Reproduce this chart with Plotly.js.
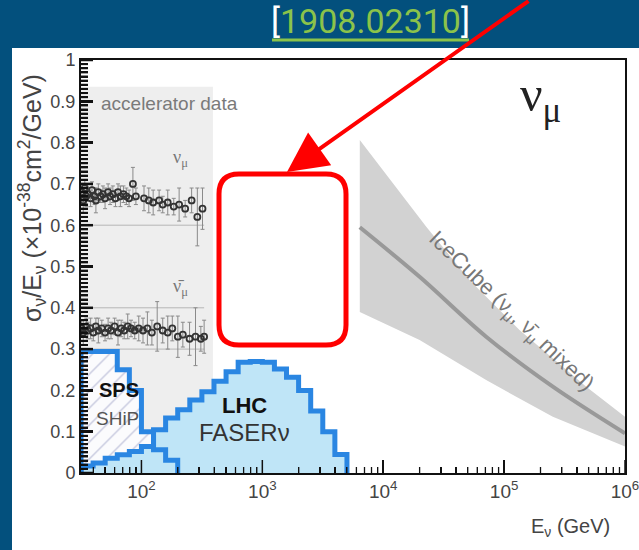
<!DOCTYPE html>
<html><head><meta charset="utf-8">
<script src="https://cdn.plot.ly/plotly-3.0.1.min.js"></script>
<style>html,body{margin:0;padding:0;background:#03507d;overflow:hidden;}
#panel{position:absolute;left:12px;top:48px;width:627px;height:502px;background:#ffffff;z-index:0;}
#chart{position:absolute;left:0;top:0;width:639px;height:550px;z-index:1;}</style>
</head><body><div id="panel"></div><div id="chart"></div>
<script>
// ---------------- data ----------------
// histogram bins: log10(E/GeV) from 1.5 in steps of 0.1
const binStartLog = 1.5;
const binStepLog = 0.1;
const spsShipValues = [0.294, 0.294, 0.294, 0.25, 0.2, 0.1, 0.056, 0.031];
const lhcFaserValues = [0.017, 0.024, 0.036, 0.044, 0.052, 0.064, 0.105, 0.133, 0.153, 0.177, 0.197, 0.222,
  0.245, 0.268, 0.27, 0.268, 0.252, 0.232, 0.2, 0.15, 0.1, 0.045];

// IceCube band (E in GeV)
const iceE      = [6400, 20000, 71000, 253000, 1000000];
const iceCentre = [0.595, 0.475, 0.33, 0.209, 0.096];
const iceUpperE = [6400, 22700, 51900, 134000, 481000, 1000000];
const iceUpper  = [0.806, 0.596, 0.467, 0.346, 0.208, 0.136];
const iceLower  = [0.39, 0.322, 0.225, 0.136, 0.064];

// accelerator data region
const accelRangeE = [31.6, 390];
const accelTop = 0.935;
const refLineValues = [0.6, 0.4, 0.3];
const refLineE = [31.6, 330];

// accelerator nu_mu measurements
const numuE   = [32, 33, 34, 35, 36, 38, 39, 41, 42, 44, 46, 48, 50, 53, 55, 58, 61, 64, 67, 71, 75, 79, 85, 90,
  105, 115, 125, 140, 150, 165, 185, 205, 230, 260, 290, 320];
const numuV   = [0.68, 0.66, 0.69, 0.67, 0.675, 0.665, 0.685, 0.67, 0.66, 0.68, 0.67, 0.675, 0.665, 0.68, 0.67,
  0.675, 0.665, 0.68, 0.67, 0.675, 0.67, 0.665, 0.70, 0.67, 0.665, 0.66, 0.655, 0.66, 0.65, 0.655, 0.645,
  0.65, 0.64, 0.66, 0.62, 0.64];
const numuErr = [0.02, 0.03, 0.02, 0.025, 0.015, 0.02, 0.02, 0.02, 0.03, 0.02, 0.015, 0.02, 0.025, 0.02, 0.02,
  0.02, 0.02, 0.02, 0.025, 0.02, 0.02, 0.02, 0.04, 0.02, 0.03, 0.03, 0.03, 0.025, 0.02, 0.03, 0.02, 0.04,
  0.02, 0.03, 0.07, 0.05];
// accelerator anti-nu_mu measurements
const nubarE   = [32, 33, 35, 36, 38, 40, 42, 44, 47, 50, 53, 56, 60, 64, 68, 72, 77, 82, 88, 95, 103, 112,
  122, 135, 150, 165, 180, 200, 220, 250, 280, 310, 330];
const nubarV   = [0.35, 0.34, 0.355, 0.345, 0.35, 0.34, 0.355, 0.345, 0.35, 0.34, 0.35, 0.345, 0.355, 0.34,
  0.35, 0.345, 0.355, 0.35, 0.345, 0.35, 0.345, 0.35, 0.34, 0.355, 0.345, 0.34, 0.35, 0.33, 0.335, 0.325,
  0.33, 0.325, 0.33];
const nubarErr = [0.02, 0.03, 0.02, 0.02, 0.025, 0.02, 0.02, 0.03, 0.02, 0.02, 0.025, 0.02, 0.02, 0.03, 0.02,
  0.02, 0.03, 0.02, 0.02, 0.03, 0.03, 0.04, 0.03, 0.06, 0.03, 0.04, 0.03, 0.05, 0.03, 0.04, 0.07, 0.03, 0.04];

const xTickVals = [100, 1000, 10000, 100000, 1000000];
const xTickText = ['10<sup>2</sup>', '10<sup>3</sup>', '10<sup>4</sup>', '10<sup>5</sup>', '10<sup>6</sup>'];

// ---------------- helpers ----------------
const L = 81, T = 60, W = 544, H = 413;
const xRangeLog = [1.5, 6];
const px = x => (x - L) / W;
const py = y => (T + H - y) / H;
const logPerPx = (xRangeLog[1] - xRangeLog[0]) / W;
function steps(values) {
  const xs = [], ys = [];
  const edge = k => Math.pow(10, binStartLog + binStepLog * k);
  xs.push(edge(0)); ys.push(0);
  values.forEach((v, k) => { xs.push(edge(k), edge(k + 1)); ys.push(v, v); });
  xs.push(edge(values.length)); ys.push(0);
  return {x: xs, y: ys};
}
function roundRect(x0, y0, x1, y1, r) {
  const P = (x, y) => px(x) + ',' + py(y);
  return 'M' + P(x0 + r, y0) + ' L' + P(x1 - r, y0) + ' Q' + P(x1, y0) + ' ' + P(x1, y0 + r) +
    ' L' + P(x1, y1 - r) + ' Q' + P(x1, y1) + ' ' + P(x1 - r, y1) +
    ' L' + P(x0 + r, y1) + ' Q' + P(x0, y1) + ' ' + P(x0, y1 - r) +
    ' L' + P(x0, y0 + r) + ' Q' + P(x0, y0) + ' ' + P(x0 + r, y0) + ' Z';
}
// inside tick marks (axis decoration), placed on the axes' own scales
function yTickTrace(step, lenPx, width, skipMajor) {
  const xs = [], ys = [];
  const x0 = Math.pow(10, xRangeLog[0]), x1 = Math.pow(10, xRangeLog[0] + lenPx * logPerPx);
  for (let i = 0; i <= Math.round(1 / step); i++) {
    const v = i * step;
    if (skipMajor && Math.abs(v * 10 - Math.round(v * 10)) < 1e-6) continue;
    xs.push(x0, x1, null); ys.push(v, v, null);
  }
  return {x: xs, y: ys, mode: 'lines', line: {color: '#111', width: width}, hoverinfo: 'skip', cliponaxis: false};
}
function xTickTrace(major, lenPx, width) {
  const xs = [], ys = [];
  for (let d = 1; d <= 6; d++) for (let m = 1; m <= 9; m++) {
    if ((m === 1) !== major) continue;
    const e = m * Math.pow(10, d);
    if (Math.log10(e) < xRangeLog[0] || Math.log10(e) > xRangeLog[1] + 1e-9) continue;
    xs.push(e, e, null); ys.push(0, lenPx / H, null);
  }
  return {x: xs, y: ys, mode: 'lines', line: {color: '#111', width: width}, hoverinfo: 'skip', cliponaxis: false};
}

const blue = '#2a86e2';
const sps = steps(spsShipValues);
const lhc = steps(lhcFaserValues);

const traces = [
  {x: [accelRangeE[0], accelRangeE[1], accelRangeE[1], accelRangeE[0]], y: [0, 0, accelTop, accelTop],
   fill: 'toself', fillcolor: '#eeeeee', line: {width: 0}, mode: 'lines', hoverinfo: 'skip'},
];
refLineValues.forEach(v => traces.push({x: refLineE, y: [v, v], mode: 'lines',
  line: {color: '#b5b5b5', width: 1}, hoverinfo: 'skip'}));
traces.push(
  {x: numuE, y: numuV, mode: 'markers', error_y: {array: numuErr, color: '#8a8a8a', thickness: 1, width: 2},
   marker: {symbol: 'circle-open', size: 6, color: '#333', line: {width: 1.8, color: '#333'}}},
  {x: nubarE, y: nubarV, mode: 'markers', error_y: {array: nubarErr, color: '#8a8a8a', thickness: 1, width: 2},
   marker: {symbol: 'circle-open', size: 6, color: '#333', line: {width: 1.8, color: '#333'}}},
  // IceCube band
  {x: iceE, y: iceLower, mode: 'lines', line: {width: 0}, hoverinfo: 'skip'},
  {x: iceUpperE, y: iceUpper, mode: 'lines', line: {width: 0}, fill: 'tonexty', fillcolor: '#d2d2d2', hoverinfo: 'skip'},
  {x: iceE, y: iceCentre, mode: 'lines', line: {color: '#999999', width: 4, shape: 'spline'}},
  // SPS / SHiP hatched
  {x: sps.x, y: sps.y, mode: 'lines', line: {width: 0}, fill: 'toself',
   fillpattern: {shape: '/', fgcolor: '#c9cbe0', bgcolor: '#fbfbfd', size: 12, solidity: 0.12}},
  // LHC / FASERnu filled
  {x: lhc.x, y: lhc.y, mode: 'lines', line: {color: blue, width: 5}, fill: 'toself', fillcolor: '#bfe5f7'},
  {x: sps.x, y: sps.y, mode: 'lines', line: {color: blue, width: 5}},
  // tick marks
  yTickTrace(0.1, 12, 2.5, false),
  yTickTrace(0.01, 7, 2, true),
  xTickTrace(true, 13, 1.5),
  xTickTrace(false, 6, 1.3)
);

const fam = 'Liberation Sans, Arial, sans-serif';
function note(x, y, text, font, extra) {
  return Object.assign({xref: 'paper', yref: 'paper', x: px(x), y: py(y), text: text, font: font,
    showarrow: false, xanchor: 'center', yanchor: 'middle'}, extra || {});
}
const layout = {
  width: 639, height: 550, showlegend: false,
  paper_bgcolor: 'rgba(0,0,0,0)', plot_bgcolor: '#ffffff',
  margin: {l: L, r: 639 - L - W, t: T, b: 550 - T - H},
  font: {family: fam, size: 18, color: '#444'},
  xaxis: {type: 'log', range: xRangeLog, tickvals: xTickVals, ticktext: xTickText, ticklabeloverflow: 'allow',
    ticks: 'inside', ticklen: 13, tickwidth: 1.5, tickcolor: '#111',
    minor: {ticks: 'inside', ticklen: 6, tickwidth: 1.3, tickcolor: '#111', dtick: 'D1'},
    showline: true, linecolor: '#111', linewidth: 2, mirror: true, showgrid: false, zeroline: false,
    tickfont: {family: fam, size: 19, color: '#444'}},
  yaxis: {range: [0, 1], tickmode: 'linear', tick0: 0, dtick: 0.1, ticks: 'inside', ticklen: 12, tickwidth: 2.5,
    tickcolor: '#111',
    minor: {ticks: 'inside', ticklen: 7, tickwidth: 2, tickcolor: '#111', dtick: 0.01},
    showline: true, linecolor: '#111', linewidth: 2, mirror: true, showgrid: false, zeroline: false,
    tickfont: {family: fam, size: 18, color: '#444'}},
  shapes: [
    {type: 'line', xref: 'paper', yref: 'paper', x0: px(272), x1: px(469), y0: py(40), y1: py(40),
     line: {color: '#8bc34a', width: 3}},
    {type: 'path', xref: 'paper', yref: 'paper', path: roundRect(219, 174, 346, 345, 20),
     line: {color: '#ff0000', width: 5}}
  ],
  annotations: [
    note(370, 21, '<span style="color:#ffffff">[</span><span style="color:#8bc34a">1908.02310</span><span style="color:#ffffff">]</span>',
      {family: 'Roboto, sans-serif', size: 34, color: '#8bc34a'}),
    {xref: 'paper', yref: 'paper', x: px(287), y: py(172), ax: 243, ay: -175, text: '',
     showarrow: true, arrowcolor: '#ff0000', arrowwidth: 4, arrowhead: 2, arrowsize: 2.0, standoff: 0},
    note(32, 198, 'σ<sub>ν</sub>/E<sub>ν</sub> (×10<sup>-38</sup>cm<sup>2</sup>/GeV)',
      {family: fam, size: 25, color: '#444'}, {textangle: -90}),
    note(612, 527, 'E<sub>ν</sub> (GeV)', {family: fam, size: 20, color: '#444'}, {xanchor: 'right'}),
    note(99, 103, 'accelerator data', {family: fam, size: 19, color: '#7a7a7a'}, {xanchor: 'left'}),
    note(180, 158, 'ν<sub>μ</sub>', {family: 'Liberation Serif, serif', size: 18, color: '#777'}),
    note(180, 287, 'ν̄<sub>μ</sub>', {family: 'Liberation Serif, serif', size: 18, color: '#777'}),
    note(540, 98, 'ν<sub>μ</sub>', {family: 'Liberation Serif, serif', size: 50, color: '#222'}),
    note(511, 312, 'IceCube (ν<sub>μ</sub>, ν̄<sub>μ</sub> mixed)', {family: fam, size: 22, color: '#777'},
      {textangle: 44}),
    note(119, 390, '<b>SPS</b>', {family: fam, size: 20, color: '#111'}),
    note(117, 418, 'SHiP', {family: fam, size: 19, color: '#555'}),
    note(244, 405, '<b>LHC</b>', {family: fam, size: 22, color: '#111'}),
    note(244, 432, 'FASERν', {family: fam, size: 24, color: '#333'})
  ]
};
Plotly.newPlot('chart', traces, layout, {displayModeBar: false, staticPlot: true});
</script>
</body></html>
